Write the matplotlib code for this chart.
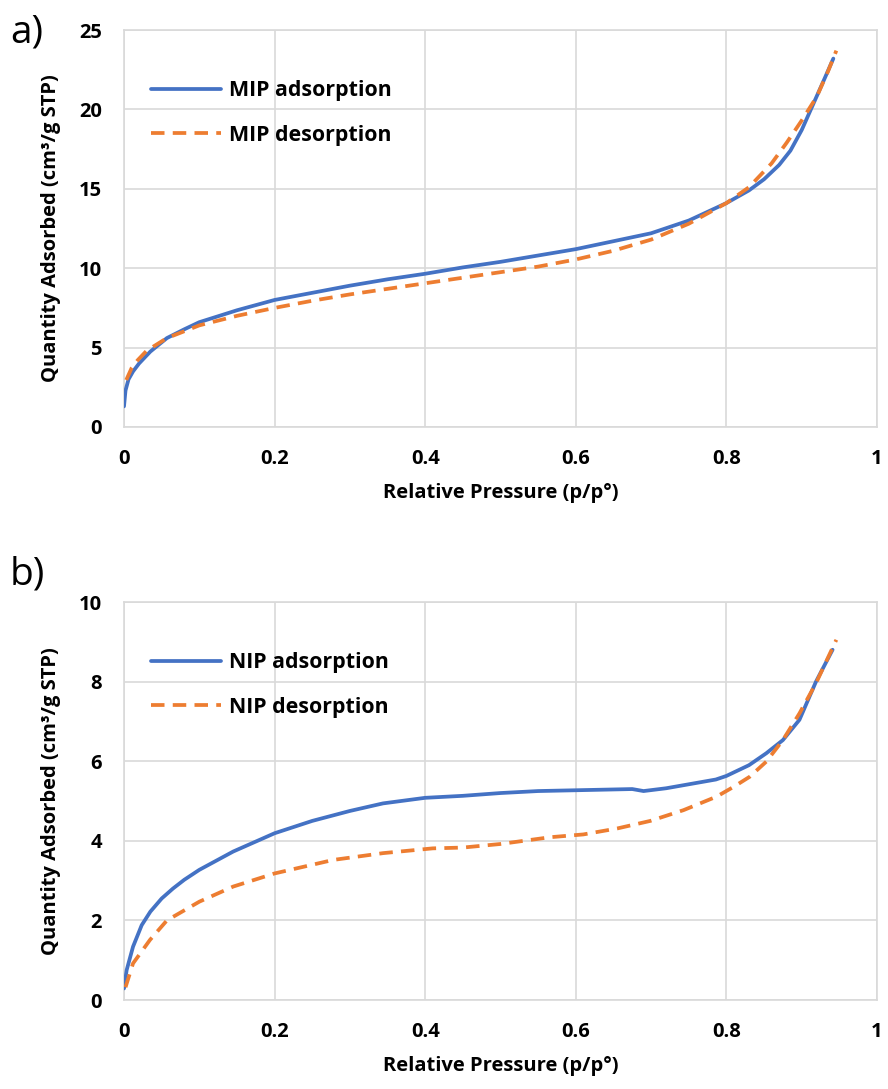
import matplotlib
matplotlib.use("Agg")
import matplotlib.pyplot as plt

# ---- data ----
mip_ads_x = [0, 0.002, 0.006, 0.012, 0.02, 0.035, 0.057, 0.08, 0.1, 0.15, 0.2, 0.25, 0.3, 0.35, 0.4,
             0.45, 0.5, 0.55, 0.6, 0.65, 0.7, 0.75, 0.8, 0.83, 0.85, 0.87, 0.885, 0.9, 0.915, 0.93, 0.942]
mip_ads_y = [1.3, 2.3, 3.0, 3.5, 4.0, 4.75, 5.6, 6.15, 6.6, 7.35, 8.0, 8.45, 8.9, 9.3, 9.65,
             10.05, 10.4, 10.8, 11.2, 11.7, 12.2, 13.0, 14.1, 14.9, 15.6, 16.5, 17.4, 18.7, 20.3, 21.9, 23.2]

mip_des_x = [0.003, 0.01, 0.018, 0.03, 0.057, 0.1, 0.15, 0.2, 0.25, 0.3, 0.35, 0.4, 0.45, 0.5,
             0.55, 0.6, 0.65, 0.7, 0.75, 0.8, 0.83, 0.86, 0.88, 0.9, 0.92, 0.935, 0.946]
mip_des_y = [2.96, 3.7, 4.2, 4.8, 5.6, 6.4, 7.0, 7.5, 7.95, 8.35, 8.7, 9.05, 9.4, 9.75,
             10.1, 10.55, 11.1, 11.8, 12.8, 14.1, 15.1, 16.6, 17.9, 19.3, 20.8, 22.4, 23.7]

nip_ads_x = [0, 0.0035, 0.012, 0.0235, 0.035, 0.05, 0.065, 0.08, 0.1, 0.145, 0.2, 0.25, 0.3, 0.344, 0.4,
             0.45, 0.5, 0.55, 0.6, 0.65, 0.675, 0.69, 0.72, 0.75, 0.786, 0.8, 0.83, 0.853, 0.875,
             0.897, 0.919, 0.941]
nip_ads_y = [0.29, 0.75, 1.34, 1.88, 2.22, 2.55, 2.8, 3.02, 3.27, 3.73, 4.19, 4.5, 4.75, 4.94, 5.08,
             5.13, 5.2, 5.25, 5.27, 5.29, 5.3, 5.25, 5.32, 5.42, 5.54, 5.63, 5.9, 6.2, 6.53,
             7.04, 8.0, 8.8]

nip_des_x = [0.002, 0.012, 0.0345, 0.057, 0.1, 0.145, 0.2, 0.278, 0.344, 0.41, 0.45, 0.5, 0.566,
             0.61, 0.655, 0.699, 0.743, 0.787, 0.81, 0.831, 0.853, 0.875, 0.897, 0.919, 0.946]
nip_des_y = [0.32, 0.92, 1.51, 2.0, 2.47, 2.85, 3.18, 3.52, 3.69, 3.81, 3.83, 3.92, 4.09,
             4.16, 4.31, 4.5, 4.77, 5.11, 5.36, 5.61, 5.99, 6.53, 7.2, 7.96, 9.05]

x_ticks = [0, 0.2, 0.4, 0.6, 0.8, 1]
x_tick_labels = ["0", "0.2", "0.4", "0.6", "0.8", "1"]
top_y_ticks = [0, 5, 10, 15, 20, 25]
bot_y_ticks = [0, 2, 4, 6, 8, 10]

xlabel = "Relative Pressure (p/p°)"
ylabel = "Quantity Adsorbed (cm³/g STP)"

BLUE = "#4472C4"
ORANGE = "#ED7D31"
GRID = "#D9D9D9"

plt.rcParams['font.family'] = ['Open Sans', 'DejaVu Sans']

fig = plt.figure(figsize=(8.88, 10.89), dpi=100)
W, H = 888, 1089


def make_axes(top_px, bottom_px):
    left, right = 124, 877
    return fig.add_axes([left / W, (H - bottom_px) / H, (right - left) / W, (bottom_px - top_px) / H])


ax1 = make_axes(30, 427)
ax2 = make_axes(602, 1000)

panels = [
    (ax1, mip_ads_x, mip_ads_y, mip_des_x, mip_des_y, "MIP adsorption", "MIP desorption",
     top_y_ticks),
    (ax2, nip_ads_x, nip_ads_y, nip_des_x, nip_des_y, "NIP adsorption", "NIP desorption",
     bot_y_ticks),
]

for ax, ax_x, ax_y, dx, dy, la, ld, yt in panels:
    ax.plot(ax_x, ax_y, color=BLUE, lw=2.7, label=la, solid_capstyle='round',
            solid_joinstyle='round', zorder=3)
    ax.plot(dx, dy, color=ORANGE, lw=2.7, label=ld, dashes=(3.6, 2.2), zorder=3)
    ax.set_xlim(0, 1)
    ax.set_ylim(yt[0], yt[-1])
    ax.set_xticks(x_ticks)
    ax.set_xticklabels(x_tick_labels)
    ax.set_yticks(yt)
    ax.grid(True, color=GRID, lw=1.2)
    ax.set_axisbelow(True)
    for s in ax.spines.values():
        s.set_color(GRID)
        s.set_linewidth(1.2)
    ax.tick_params(length=0, labelsize=14.5, pad=16)
    for lab in ax.get_xticklabels() + ax.get_yticklabels():
        lab.set_fontweight('bold')
    ax.set_xlabel(xlabel, fontsize=14.5, fontweight='bold', labelpad=10)
    ax.set_ylabel(ylabel, fontsize=14.5, fontweight='bold', labelpad=13)
    leg = ax.legend(loc='upper left', frameon=False, fontsize=15.4, handlelength=3.3,
                    handletextpad=0.35, labelspacing=1.1, bbox_to_anchor=(0.01, 0.922))
    for t in leg.get_texts():
        t.set_fontweight('bold')

fig.text(10 / W, 1 - 32 / H, "a)", fontsize=28, va='center', ha='left')
fig.text(10 / W, 1 - 575 / H, "b)", fontsize=28, va='center', ha='left')

fig.savefig("out.png", dpi=100)
